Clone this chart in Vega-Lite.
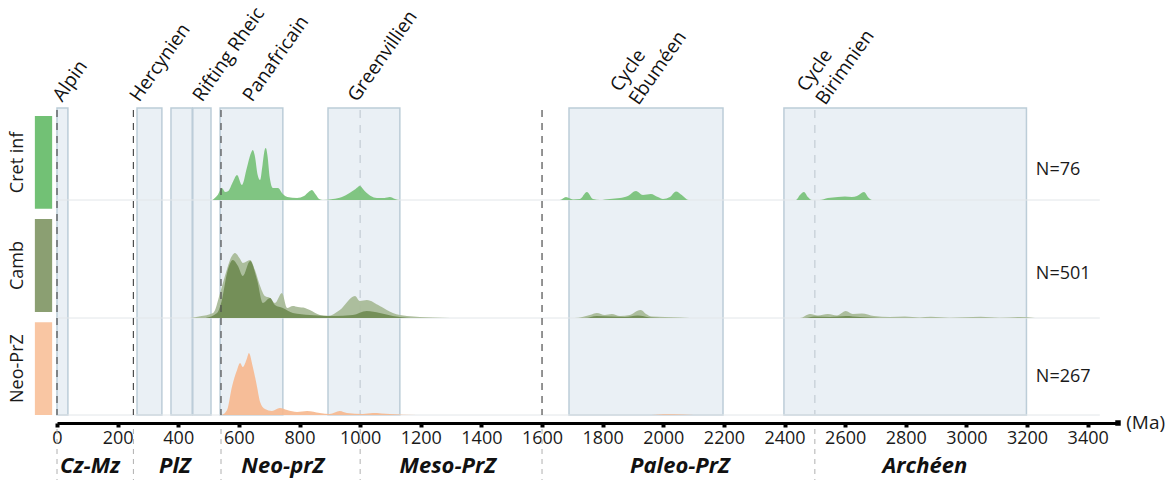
{
  "$schema": "https://vega.github.io/schema/vega-lite/v6.json",
  "width": 1061,
  "height": 415,
  "autosize": {"type": "none"},
  "padding": {"left": 57, "top": 0, "right": 53, "bottom": 70},
  "background": "white",
  "config": {
    "view": {"stroke": null},
    "font": "Open Sans",
    "text": {"font": "Open Sans"}
  },
  "datasets": {
    "boxes": [
      {"name": "Alpin", "start": 0, "end": 36},
      {"name": "Hercynien", "start": 264, "end": 346},
      {"name": "Rheic 1", "start": 376, "end": 446},
      {"name": "Rheic 2", "start": 448, "end": 508},
      {"name": "Panafricain", "start": 538, "end": 745},
      {"name": "Greenvillien", "start": 894, "end": 1131},
      {"name": "Eburneen", "start": 1689, "end": 2197},
      {"name": "Birimnien", "start": 2398, "end": 3198}
    ],
    "bounds": [
      {"ma": 0, "kind": "major"},
      {"ma": 252, "kind": "major"},
      {"ma": 541, "kind": "major"},
      {"ma": 1000, "kind": "minor"},
      {"ma": 1600, "kind": "major"},
      {"ma": 2500, "kind": "minor"}
    ],
    "labels": [
      {"label": "Alpin", "ma": 28},
      {"label": "Hercynien", "ma": 282},
      {"label": "Rifting Rheic", "ma": 490},
      {"label": "Panafricain", "ma": 655},
      {"label": "Greenvillien", "ma": 1001}
    ],
    "cycles": [
      {"label": ["Cycle", "Ebuméen"], "ma": 1867},
      {"label": ["Cycle", "Birimnien"], "ma": 2483}
    ],
    "eras": [
      {"label": "Cz-Mz", "ma": 109},
      {"label": "PlZ", "ma": 389},
      {"label": "Neo-prZ", "ma": 745},
      {"label": "Meso-PrZ", "ma": 1289},
      {"label": "Paleo-PrZ", "ma": 2055},
      {"label": "Archéen", "ma": 2863}
    ],
    "rows": [
      {"sample": "Cret inf", "n": "N=76"},
      {"sample": "Camb", "n": "N=501"},
      {"sample": "Neo-PrZ", "n": "N=267"}
    ],
    "dens": [
      {"s": "Cret inf", "ma": 513, "d": 0}, {"s": "Cret inf", "ma": 530, "d": 5}, {"s": "Cret inf", "ma": 544, "d": 12}, {"s": "Cret inf", "ma": 555, "d": 8}, {"s": "Cret inf", "ma": 565, "d": 9}, {"s": "Cret inf", "ma": 580, "d": 18}, {"s": "Cret inf", "ma": 594, "d": 25}, {"s": "Cret inf", "ma": 610, "d": 15}, {"s": "Cret inf", "ma": 627, "d": 33}, {"s": "Cret inf", "ma": 640, "d": 47}, {"s": "Cret inf", "ma": 646, "d": 50}, {"s": "Cret inf", "ma": 652, "d": 45}, {"s": "Cret inf", "ma": 662, "d": 25}, {"s": "Cret inf", "ma": 670, "d": 20}, {"s": "Cret inf", "ma": 678, "d": 35}, {"s": "Cret inf", "ma": 685, "d": 50}, {"s": "Cret inf", "ma": 689, "d": 52}, {"s": "Cret inf", "ma": 694, "d": 45}, {"s": "Cret inf", "ma": 702, "d": 22}, {"s": "Cret inf", "ma": 712, "d": 12}, {"s": "Cret inf", "ma": 729, "d": 12}, {"s": "Cret inf", "ma": 745, "d": 6}, {"s": "Cret inf", "ma": 760, "d": 3}, {"s": "Cret inf", "ma": 792, "d": 2}, {"s": "Cret inf", "ma": 815, "d": 4}, {"s": "Cret inf", "ma": 830, "d": 8}, {"s": "Cret inf", "ma": 841, "d": 10}, {"s": "Cret inf", "ma": 852, "d": 6}, {"s": "Cret inf", "ma": 865, "d": 1}, {"s": "Cret inf", "ma": 877, "d": 0}, {"s": "Cret inf", "ma": 910, "d": 1}, {"s": "Cret inf", "ma": 940, "d": 3}, {"s": "Cret inf", "ma": 965, "d": 7}, {"s": "Cret inf", "ma": 985, "d": 11}, {"s": "Cret inf", "ma": 999, "d": 14}, {"s": "Cret inf", "ma": 1015, "d": 9}, {"s": "Cret inf", "ma": 1035, "d": 4}, {"s": "Cret inf", "ma": 1055, "d": 2}, {"s": "Cret inf", "ma": 1080, "d": 2}, {"s": "Cret inf", "ma": 1098, "d": 3}, {"s": "Cret inf", "ma": 1115, "d": 1}, {"s": "Cret inf", "ma": 1131, "d": 0},
      {"s": "Cret inf", "ma": 1659, "d": 0}, {"s": "Cret inf", "ma": 1679, "d": 3}, {"s": "Cret inf", "ma": 1702, "d": 0.5}, {"s": "Cret inf", "ma": 1725, "d": 1}, {"s": "Cret inf", "ma": 1748, "d": 8}, {"s": "Cret inf", "ma": 1768, "d": 1}, {"s": "Cret inf", "ma": 1791, "d": 0}, {"s": "Cret inf", "ma": 1824, "d": 1}, {"s": "Cret inf", "ma": 1857, "d": 2}, {"s": "Cret inf", "ma": 1883, "d": 4}, {"s": "Cret inf", "ma": 1910, "d": 9}, {"s": "Cret inf", "ma": 1933, "d": 5}, {"s": "Cret inf", "ma": 1959, "d": 6}, {"s": "Cret inf", "ma": 1982, "d": 3}, {"s": "Cret inf", "ma": 1999, "d": 1}, {"s": "Cret inf", "ma": 2022, "d": 3}, {"s": "Cret inf", "ma": 2042, "d": 8.5}, {"s": "Cret inf", "ma": 2061, "d": 5}, {"s": "Cret inf", "ma": 2084, "d": 0},
      {"s": "Cret inf", "ma": 2437, "d": 0}, {"s": "Cret inf", "ma": 2451, "d": 5}, {"s": "Cret inf", "ma": 2464, "d": 8}, {"s": "Cret inf", "ma": 2477, "d": 3}, {"s": "Cret inf", "ma": 2490, "d": 0}, {"s": "Cret inf", "ma": 2516, "d": 0}, {"s": "Cret inf", "ma": 2543, "d": 2}, {"s": "Cret inf", "ma": 2576, "d": 3}, {"s": "Cret inf", "ma": 2599, "d": 3.5}, {"s": "Cret inf", "ma": 2622, "d": 3}, {"s": "Cret inf", "ma": 2639, "d": 4}, {"s": "Cret inf", "ma": 2662, "d": 8}, {"s": "Cret inf", "ma": 2678, "d": 2}, {"s": "Cret inf", "ma": 2688, "d": 0},
      {"s": "Camb A", "ma": 439, "d": 0}, {"s": "Camb A", "ma": 472, "d": 1.7}, {"s": "Camb A", "ma": 515, "d": 5}, {"s": "Camb A", "ma": 538, "d": 25}, {"s": "Camb A", "ma": 554, "d": 42}, {"s": "Camb A", "ma": 577, "d": 62}, {"s": "Camb A", "ma": 587, "d": 65}, {"s": "Camb A", "ma": 604, "d": 59}, {"s": "Camb A", "ma": 613, "d": 55}, {"s": "Camb A", "ma": 637, "d": 58}, {"s": "Camb A", "ma": 653, "d": 48}, {"s": "Camb A", "ma": 670, "d": 32}, {"s": "Camb A", "ma": 686, "d": 22}, {"s": "Camb A", "ma": 703, "d": 20}, {"s": "Camb A", "ma": 719, "d": 15}, {"s": "Camb A", "ma": 742, "d": 25}, {"s": "Camb A", "ma": 759, "d": 10}, {"s": "Camb A", "ma": 778, "d": 12}, {"s": "Camb A", "ma": 795, "d": 11}, {"s": "Camb A", "ma": 818, "d": 10}, {"s": "Camb A", "ma": 834, "d": 8}, {"s": "Camb A", "ma": 867, "d": 3}, {"s": "Camb A", "ma": 894, "d": 2}, {"s": "Camb A", "ma": 933, "d": 8}, {"s": "Camb A", "ma": 983, "d": 22}, {"s": "Camb A", "ma": 999, "d": 17}, {"s": "Camb A", "ma": 1022, "d": 18}, {"s": "Camb A", "ma": 1065, "d": 12}, {"s": "Camb A", "ma": 1108, "d": 5}, {"s": "Camb A", "ma": 1154, "d": 2}, {"s": "Camb A", "ma": 1240, "d": 0.5}, {"s": "Camb A", "ma": 1296, "d": 0},
      {"s": "Camb A", "ma": 1708, "d": 0}, {"s": "Camb A", "ma": 1758, "d": 3}, {"s": "Camb A", "ma": 1781, "d": 5}, {"s": "Camb A", "ma": 1807, "d": 3}, {"s": "Camb A", "ma": 1830, "d": 4}, {"s": "Camb A", "ma": 1857, "d": 2}, {"s": "Camb A", "ma": 1890, "d": 3}, {"s": "Camb A", "ma": 1913, "d": 7}, {"s": "Camb A", "ma": 1926, "d": 8}, {"s": "Camb A", "ma": 1943, "d": 4}, {"s": "Camb A", "ma": 1962, "d": 1.5}, {"s": "Camb A", "ma": 2005, "d": 1}, {"s": "Camb A", "ma": 2055, "d": 0.5}, {"s": "Camb A", "ma": 2088, "d": 0},
      {"s": "Camb A", "ma": 2451, "d": 0}, {"s": "Camb A", "ma": 2484, "d": 4}, {"s": "Camb A", "ma": 2510, "d": 2.5}, {"s": "Camb A", "ma": 2543, "d": 4}, {"s": "Camb A", "ma": 2573, "d": 2.5}, {"s": "Camb A", "ma": 2602, "d": 7}, {"s": "Camb A", "ma": 2625, "d": 4}, {"s": "Camb A", "ma": 2655, "d": 4.5}, {"s": "Camb A", "ma": 2695, "d": 2}, {"s": "Camb A", "ma": 2747, "d": 1}, {"s": "Camb A", "ma": 2797, "d": 1.5}, {"s": "Camb A", "ma": 2846, "d": 0.5}, {"s": "Camb A", "ma": 2883, "d": 1.2}, {"s": "Camb A", "ma": 2945, "d": 0.3}, {"s": "Camb A", "ma": 3047, "d": 1.2}, {"s": "Camb A", "ma": 3110, "d": 0.3}, {"s": "Camb A", "ma": 3176, "d": 1}, {"s": "Camb A", "ma": 3226, "d": 0},
      {"s": "Camb B", "ma": 490, "d": 0}, {"s": "Camb B", "ma": 528, "d": 5}, {"s": "Camb B", "ma": 544, "d": 18}, {"s": "Camb B", "ma": 561, "d": 45}, {"s": "Camb B", "ma": 580, "d": 58}, {"s": "Camb B", "ma": 597, "d": 52}, {"s": "Camb B", "ma": 613, "d": 42}, {"s": "Camb B", "ma": 637, "d": 57}, {"s": "Camb B", "ma": 660, "d": 38}, {"s": "Camb B", "ma": 679, "d": 15}, {"s": "Camb B", "ma": 703, "d": 20}, {"s": "Camb B", "ma": 719, "d": 13}, {"s": "Camb B", "ma": 745, "d": 10}, {"s": "Camb B", "ma": 778, "d": 5}, {"s": "Camb B", "ma": 834, "d": 3}, {"s": "Camb B", "ma": 910, "d": 2}, {"s": "Camb B", "ma": 976, "d": 3}, {"s": "Camb B", "ma": 1022, "d": 7}, {"s": "Camb B", "ma": 1065, "d": 5}, {"s": "Camb B", "ma": 1108, "d": 2}, {"s": "Camb B", "ma": 1154, "d": 0.3}, {"s": "Camb B", "ma": 1180, "d": 0},
      {"s": "Camb B", "ma": 1741, "d": 0}, {"s": "Camb B", "ma": 1781, "d": 2}, {"s": "Camb B", "ma": 1830, "d": 1.5}, {"s": "Camb B", "ma": 1873, "d": 1}, {"s": "Camb B", "ma": 1916, "d": 2.5}, {"s": "Camb B", "ma": 1956, "d": 0.5}, {"s": "Camb B", "ma": 1989, "d": 0},
      {"s": "Camb B", "ma": 2467, "d": 0}, {"s": "Camb B", "ma": 2500, "d": 1.5}, {"s": "Camb B", "ma": 2550, "d": 1}, {"s": "Camb B", "ma": 2602, "d": 2}, {"s": "Camb B", "ma": 2648, "d": 1}, {"s": "Camb B", "ma": 2714, "d": 0},
      {"s": "Neo-PrZ", "ma": 544, "d": 0}, {"s": "Neo-PrZ", "ma": 561, "d": 5}, {"s": "Neo-PrZ", "ma": 577, "d": 28}, {"s": "Neo-PrZ", "ma": 594, "d": 45}, {"s": "Neo-PrZ", "ma": 604, "d": 52}, {"s": "Neo-PrZ", "ma": 613, "d": 48}, {"s": "Neo-PrZ", "ma": 627, "d": 57}, {"s": "Neo-PrZ", "ma": 633, "d": 62}, {"s": "Neo-PrZ", "ma": 646, "d": 48}, {"s": "Neo-PrZ", "ma": 660, "d": 28}, {"s": "Neo-PrZ", "ma": 670, "d": 13}, {"s": "Neo-PrZ", "ma": 686, "d": 6}, {"s": "Neo-PrZ", "ma": 709, "d": 4}, {"s": "Neo-PrZ", "ma": 735, "d": 7}, {"s": "Neo-PrZ", "ma": 759, "d": 5}, {"s": "Neo-PrZ", "ma": 792, "d": 3}, {"s": "Neo-PrZ", "ma": 825, "d": 4}, {"s": "Neo-PrZ", "ma": 867, "d": 2}, {"s": "Neo-PrZ", "ma": 900, "d": 1}, {"s": "Neo-PrZ", "ma": 933, "d": 4}, {"s": "Neo-PrZ", "ma": 956, "d": 2}, {"s": "Neo-PrZ", "ma": 1009, "d": 1}, {"s": "Neo-PrZ", "ma": 1042, "d": 2}, {"s": "Neo-PrZ", "ma": 1098, "d": 1}, {"s": "Neo-PrZ", "ma": 1187, "d": 0}, {"s": "Neo-PrZ", "ma": 1950, "d": 0}, {"s": "Neo-PrZ", "ma": 2000, "d": 0.8}, {"s": "Neo-PrZ", "ma": 2060, "d": 0.5}, {"s": "Neo-PrZ", "ma": 2100, "d": 0}
    ]
  },
  "resolve": {"scale": {"y": "independent"}},
  "layer": [
    {
      "data": {"name": "boxes"},
      "mark": {"type": "rect", "fill": "#eaf0f5", "stroke": "#bccdd8", "strokeWidth": 1.5},
      "encoding": {
        "x": {"field": "start", "type": "quantitative", "title": null, "scale": {"domain": [0, 3500], "nice": false, "zero": false},
          "axis": {"title": null, "orient": "bottom", "offset": 8, "grid": false,
            "domainColor": "#000", "domainWidth": 3,
            "tickColor": "#000", "tickSize": 4, "tickWidth": 4,
            "labelFontSize": 18, "labelColor": "#1a1a1a", "labelPadding": 2, "labelFont": "Open Sans",
            "labelFlush": false, "labelOverlap": false, "format": "d",
            "values": [0, 100, 200, 300, 400, 500, 600, 700, 800, 900, 1000, 1100, 1200, 1300, 1400, 1500, 1600, 1700, 1800, 1900, 2000, 2100, 2200, 2300, 2400, 2500, 2600, 2700, 2800, 2900, 3000, 3100, 3200, 3300, 3400],
            "labelExpr": "datum.value % 200 === 0 ? datum.label : ''"}},
        "x2": {"field": "end"},
        "y": {"datum": 307, "type": "quantitative", "scale": {"domain": [0, 415], "nice": false, "zero": false}, "axis": null},
        "y2": {"datum": 0}
      }
    },
    {
      "data": {"name": "bounds"},
      "transform": [{"filter": "datum.kind === 'minor'"}],
      "mark": {"type": "rule", "color": "#c3ccd3", "strokeWidth": 1.2, "strokeDash": [8, 7]},
      "encoding": {
        "x": {"field": "ma", "type": "quantitative", "title": null, "scale": {"domain": [0, 3500], "nice": false, "zero": false}},
        "y": {"datum": 305, "type": "quantitative", "scale": {"domain": [0, 415], "nice": false, "zero": false}, "axis": null},
        "y2": {"datum": 0}
      }
    },
    {
      "data": {"name": "bounds"},
      "mark": {"type": "rule", "color": "#b0b0b0", "strokeWidth": 1, "strokeDash": [5, 5]},
      "encoding": {
        "x": {"field": "ma", "type": "quantitative", "title": null, "scale": {"domain": [0, 3500], "nice": false, "zero": false}},
        "y": {"datum": -14, "type": "quantitative", "scale": {"domain": [0, 415], "nice": false, "zero": false}, "axis": null},
        "y2": {"datum": -65}
      }
    },
    {
      "layer": [
        {
          "data": {"values": [{}]},
          "mark": {"type": "rule", "color": "#e2e6e9", "strokeWidth": 1},
          "encoding": {
            "x": {"datum": 0, "type": "quantitative", "title": null, "scale": {"domain": [0, 3500], "nice": false, "zero": false}},
            "x2": {"datum": 3440},
            "y": {"datum": 0, "type": "quantitative", "scale": {"domain": [-215, 200], "nice": false, "zero": false}, "axis": null}
          }
        },
        {
          "data": {"name": "dens"},
          "transform": [{"filter": "datum.s === 'Cret inf'"}],
          "mark": {"type": "area", "color": "#74c076", "fillOpacity": 0.9, "interpolate": "monotone"},
          "encoding": {
            "x": {"field": "ma", "type": "quantitative", "title": null, "scale": {"domain": [0, 3500], "nice": false, "zero": false}},
            "y": {"field": "d", "type": "quantitative", "scale": {"domain": [-215, 200], "nice": false, "zero": false}, "axis": null},
            "y2": {"datum": 0}
          }
        }
      ]
    },
    {
      "layer": [
        {
          "data": {"values": [{}]},
          "mark": {"type": "rule", "color": "#e2e6e9", "strokeWidth": 1},
          "encoding": {
            "x": {"datum": 0, "type": "quantitative", "title": null, "scale": {"domain": [0, 3500], "nice": false, "zero": false}},
            "x2": {"datum": 3440},
            "y": {"datum": 0, "type": "quantitative", "scale": {"domain": [-97, 318], "nice": false, "zero": false}, "axis": null}
          }
        },
        {
          "data": {"name": "dens"},
          "transform": [{"filter": "datum.s === 'Camb A'"}],
          "mark": {"type": "area", "color": "#a9ba98", "fillOpacity": 0.95, "interpolate": "monotone"},
          "encoding": {
            "x": {"field": "ma", "type": "quantitative", "title": null, "scale": {"domain": [0, 3500], "nice": false, "zero": false}},
            "y": {"field": "d", "type": "quantitative", "scale": {"domain": [-97, 318], "nice": false, "zero": false}, "axis": null},
            "y2": {"datum": 0}
          }
        },
        {
          "data": {"name": "dens"},
          "transform": [{"filter": "datum.s === 'Camb B'"}],
          "mark": {"type": "area", "color": "#6f8b53", "fillOpacity": 0.92, "interpolate": "monotone"},
          "encoding": {
            "x": {"field": "ma", "type": "quantitative", "title": null, "scale": {"domain": [0, 3500], "nice": false, "zero": false}},
            "y": {"field": "d", "type": "quantitative", "scale": {"domain": [-97, 318], "nice": false, "zero": false}, "axis": null},
            "y2": {"datum": 0}
          }
        }
      ]
    },
    {
      "layer": [
        {
          "data": {"values": [{}]},
          "mark": {"type": "rule", "color": "#e2e6e9", "strokeWidth": 1},
          "encoding": {
            "x": {"datum": 0, "type": "quantitative", "title": null, "scale": {"domain": [0, 3500], "nice": false, "zero": false}},
            "x2": {"datum": 3440},
            "y": {"datum": 0, "type": "quantitative", "scale": {"domain": [0, 415], "nice": false, "zero": false}, "axis": null}
          }
        },
        {
          "data": {"name": "dens"},
          "transform": [{"filter": "datum.s === 'Neo-PrZ'"}],
          "mark": {"type": "area", "color": "#f6b98f", "fillOpacity": 0.92, "interpolate": "monotone"},
          "encoding": {
            "x": {"field": "ma", "type": "quantitative", "title": null, "scale": {"domain": [0, 3500], "nice": false, "zero": false}},
            "y": {"field": "d", "type": "quantitative", "scale": {"domain": [0, 415], "nice": false, "zero": false}, "axis": null},
            "y2": {"datum": 0}
          }
        }
      ]
    },
    {
      "data": {"name": "bounds"},
      "transform": [{"filter": "datum.kind === 'major'"}],
      "mark": {"type": "rule", "color": "#4d4d4d", "strokeWidth": 1.2, "strokeDash": [7, 6]},
      "encoding": {
        "x": {"field": "ma", "type": "quantitative", "title": null, "scale": {"domain": [0, 3500], "nice": false, "zero": false}},
        "y": {"datum": 305, "type": "quantitative", "scale": {"domain": [0, 415], "nice": false, "zero": false}, "axis": null},
        "y2": {"datum": 0}
      }
    },
    {
      "data": {"name": "rows"},
      "encoding": {
        "y": {"field": "sample", "type": "nominal", "axis": null,
          "scale": {"type": "band", "domain": ["Cret inf", "Camb", "Neo-PrZ"], "range": [116, 415], "paddingInner": 0.1, "paddingOuter": 0}}
      },
      "layer": [
        {
          "mark": {"type": "rect"},
          "encoding": {
            "x": {"datum": -73, "type": "quantitative", "title": null, "scale": {"domain": [0, 3500], "nice": false, "zero": false}},
            "x2": {"datum": -16},
            "color": {"field": "sample", "type": "nominal", "legend": null,
              "scale": {"domain": ["Cret inf", "Camb", "Neo-PrZ"], "range": ["#72c175", "#8b9f72", "#f9c6a3"]}}
          }
        },
        {
          "mark": {"type": "text", "angle": 270, "fontSize": 18, "color": "#1a1a1a", "align": "center", "baseline": "middle"},
          "encoding": {
            "x": {"datum": -129, "type": "quantitative", "title": null, "scale": {"domain": [0, 3500], "nice": false, "zero": false}},
            "text": {"field": "sample"}
          }
        },
        {
          "mark": {"type": "text", "fontSize": 18, "color": "#1a1a1a", "align": "left", "baseline": "middle", "dy": 8},
          "encoding": {
            "x": {"datum": 3229, "type": "quantitative", "title": null, "scale": {"domain": [0, 3500], "nice": false, "zero": false}},
            "text": {"field": "n"}
          }
        }
      ]
    },
    {
      "data": {"name": "labels"},
      "mark": {"type": "text", "angle": -55, "align": "left", "baseline": "bottom", "fontSize": 19, "lineHeight": 23, "color": "#111"},
      "encoding": {
        "x": {"field": "ma", "type": "quantitative", "title": null, "scale": {"domain": [0, 3500], "nice": false, "zero": false}},
        "y": {"datum": 310, "type": "quantitative", "scale": {"domain": [0, 415], "nice": false, "zero": false}, "axis": null},
        "text": {"field": "label"}
      }
    },
    {
      "data": {"name": "cycles"},
      "mark": {"type": "text", "angle": -55, "align": "left", "baseline": "bottom", "fontSize": 19, "lineHeight": 23, "color": "#111"},
      "encoding": {
        "x": {"field": "ma", "type": "quantitative", "title": null, "scale": {"domain": [0, 3500], "nice": false, "zero": false}},
        "y": {"datum": 320, "type": "quantitative", "scale": {"domain": [0, 415], "nice": false, "zero": false}, "axis": null},
        "text": {"field": "label"}
      }
    },
    {
      "data": {"name": "eras"},
      "mark": {"type": "text", "fontSize": 22, "fontWeight": "bold", "fontStyle": "italic", "align": "center", "baseline": "middle", "color": "#111"},
      "encoding": {
        "x": {"field": "ma", "type": "quantitative", "title": null, "scale": {"domain": [0, 3500], "nice": false, "zero": false}},
        "y": {"datum": -51, "type": "quantitative", "scale": {"domain": [0, 415], "nice": false, "zero": false}, "axis": null},
        "text": {"field": "label"}
      }
    },
    {
      "data": {"values": [{"unit": "(Ma)"}]},
      "layer": [
        {
          "mark": {"type": "point", "shape": "square", "size": 30, "filled": true, "color": "#000", "opacity": 1},
          "encoding": {
            "x": {"datum": 3500, "type": "quantitative", "title": null, "scale": {"domain": [0, 3500], "nice": false, "zero": false}},
            "y": {"datum": -8, "type": "quantitative", "scale": {"domain": [0, 415], "nice": false, "zero": false}, "axis": null}
          }
        },
        {
          "mark": {"type": "text", "fontSize": 19, "align": "left", "baseline": "middle", "color": "#1a1a1a"},
          "encoding": {
            "x": {"datum": 3527, "type": "quantitative", "title": null, "scale": {"domain": [0, 3500], "nice": false, "zero": false}},
            "y": {"datum": -8, "type": "quantitative", "scale": {"domain": [0, 415], "nice": false, "zero": false}, "axis": null},
            "text": {"field": "unit"}
          }
        }
      ]
    }
  ]
}
